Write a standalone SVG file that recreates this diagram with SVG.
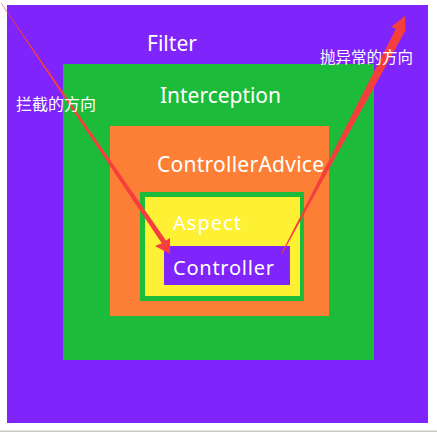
<svg xmlns="http://www.w3.org/2000/svg" width="437" height="432" viewBox="0 0 437 432">
<style>
.lbl{font-family:"Noto Sans","Open Sans",sans-serif;fill:#ffffff}
.cjk{font-family:"Noto Sans CJK SC","Noto Sans",sans-serif;fill:#ffffff}
.arrow{fill:#f53f3f}
</style>
<rect x="0" y="0" width="437" height="432" fill="#ffffff"/>
<rect x="0" y="430.5" width="437" height="1.5" fill="#c9c9c1"/>
<g id="filter">
<rect x="7" y="5" width="421" height="418" fill="#7f24fb"/>
<text class="lbl" x="147" y="51" font-size="21" textLength="50">Filter</text>
</g>
<g id="interception">
<rect x="63" y="64" width="311" height="296" fill="#1dbb3a"/>
<text class="lbl" x="160" y="103" font-size="21" textLength="121">Interception</text>
</g>
<g id="controllerAdvice">
<rect x="110" y="126" width="219" height="190" fill="#fd7f35"/>
<text class="lbl" x="157" y="172" font-size="21" textLength="167">ControllerAdvice</text>
</g>
<g id="aspect">
<rect x="140" y="192" width="164" height="109" fill="#1dbb3a"/>
<rect x="145" y="197" width="155" height="99" fill="#fef033"/>
<text class="lbl" x="173" y="230" font-size="20" textLength="68">Aspect</text>
</g>
<g id="controller">
<rect x="164" y="246" width="126" height="39" fill="#7f24fb"/>
<text class="lbl" x="173" y="275" font-size="20" textLength="101">Controller</text>
</g>
<g id="connectors">
<polygon class="arrow" points="0.5,2.5 1.5,3.2 166,240.5 170,238 170,254 155,246 161.8,243.2"/>
<polygon class="arrow" points="281.6,253 282.4,253.4 404,33 405.5,31 405,16 391,27 396,28.5"/>
<text class="cjk" x="16" y="109.5" font-size="16">拦截的方向</text>
<text class="cjk" x="320" y="63" font-size="15.5">抛异常的方向</text>
</g>
</svg>
